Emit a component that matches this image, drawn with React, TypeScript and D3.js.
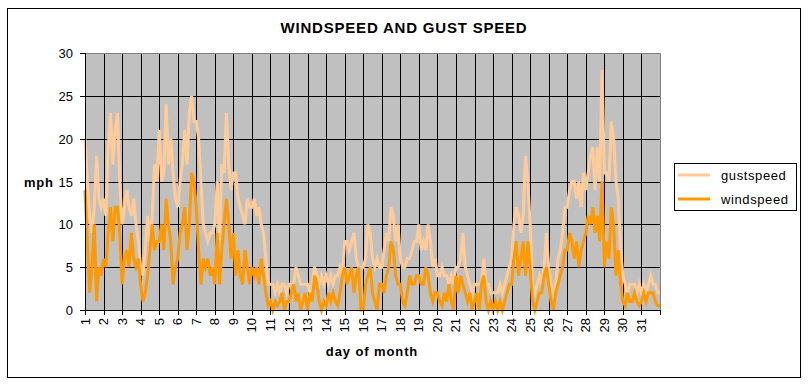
import React from "react";
import * as d3 from "d3";

// samples every 3 hours (8 per day), day 1 00:00 .. day 32 00:00
const gustSpeed: number[] = [
  20, 15, 11, 9, 12, 18, 13, 12,
  13, 11, 19, 23, 17, 21, 23, 15,
  10, 12, 14, 12, 11, 13, 10, 8,
  5, 4, 7, 11, 8, 11, 17, 15,
  21, 15, 16, 24, 17, 20, 16, 13,
  12, 15, 17, 21, 17, 23, 25, 22,
  22, 20, 15, 10, 9, 8, 9, 9,
  10, 15, 8, 17, 16, 23, 17, 14,
  16, 16, 13, 12, 11, 10, 13, 12,
  12, 13, 11, 12, 10, 9, 6, 3,
  3, 3, 2, 3, 2, 3, 3, 2,
  3, 3, 3, 5, 4, 3, 3, 3,
  3, 2, 3, 5, 4, 3, 4, 3,
  4, 3, 4, 3, 4, 4, 5, 4,
  8, 8, 7, 8, 9, 6, 5, 5,
  5, 6, 10, 9, 6, 5, 6, 5,
  5, 7, 9, 8, 12, 11, 8, 10,
  6, 5, 5, 6, 6, 7, 8, 8,
  10, 7, 8, 7, 10, 8, 5, 6,
  4, 4, 5, 4, 4, 3, 4, 3,
  5, 5, 6, 9, 5, 4, 3, 2,
  3, 3, 3, 3, 6, 3, 3, 2,
  2, 2, 2, 3, 2, 3, 4, 5,
  6, 10, 12, 11, 9, 11, 18, 15,
  10, 3, 2, 3, 4, 3, 5, 9,
  5, 3, 2, 3, 6, 7, 9, 12,
  12, 14, 15, 15, 13, 15, 12, 16,
  14, 16, 18, 19, 14, 19, 15, 28,
  16, 16, 15, 22, 20, 15, 13, 7,
  4, 3, 2, 3, 3, 3, 2, 3,
  2, 3, 2, 3, 4, 3, 3, 2,
  2,
];

const windSpeed: number[] = [
  14, 8, 2, 5, 10, 1, 5, 4,
  6, 5, 9, 12, 8, 12, 12, 9,
  3, 6, 7, 5, 9, 6, 5, 6,
  3, 1, 2, 4, 7, 10, 7, 8,
  8, 10, 7, 13, 10, 8, 3, 5,
  6, 9, 10, 12, 7, 10, 16, 15,
  12, 7, 3, 6, 5, 6, 4, 5,
  3, 9, 3, 7, 10, 13, 10, 6,
  9, 4, 7, 4, 3, 7, 5, 3,
  5, 4, 5, 3, 6, 4, 2, 0.5,
  1, 0, 1, 0.5, 1, 2, 0, 1,
  1, 2, 3, 1, 2, 0, 1, 2,
  0, 2, 1, 4, 3, 1, 0, 1,
  0.5, 2, 1, 2, 1, 0.5, 2, 4,
  5, 3, 4, 5, 2, 4, 5, 0,
  0, 3, 4, 5, 2, 1, 0, 3,
  3, 2, 4, 5, 8, 7, 4, 3,
  3, 1, 0.5, 2, 4, 3, 3, 4,
  4, 3, 3, 5, 4, 2, 1, 2,
  2, 1, 0.5, 2, 1, 3, 1, 0,
  4, 2, 4, 3, 2, 1, 2, 0,
  1, 2, 0, 3, 4, 1, 0, 1,
  0, 1, 0, 1, 0, 1, 2, 3,
  3, 6, 8, 4, 6, 8, 4, 8,
  5, 1, 0, 1, 2, 2, 4, 5,
  3, 1, 0, 2, 3, 4, 5, 7,
  7, 9, 8, 6, 8, 5, 7, 8,
  9, 11, 10, 12, 9, 11, 8, 15,
  5, 8, 6, 12, 10, 4, 7, 3,
  1, 0.5, 2, 1, 1, 2, 1, 0.5,
  1, 2, 1, 2, 2, 2, 1, 0.5,
  0.5,
];

const samplesPerDay = 8;
const dayTicks: number[] = Array.from({ length: 31 }, (_, i) => i + 1);
const yTicks: number[] = [0, 5, 10, 15, 20, 25, 30];
const seriesNames = ["gustspeed", "windspeed"];
const seriesColors = ["#FFCC99", "#FF9900"];

const W = 809;
const H = 384;
const PL = 85, PR = 660, PT = 53, PB = 310;
const FONT = "Arial, 'Liberation Sans', sans-serif";

export default function App() {
  const x = d3.scaleLinear().domain([1, 32]).range([PL, PR]);
  const y = d3.scaleLinear().domain([0, 30]).range([PB, PT]);
  const line = d3
    .line<number>()
    .x((_, i) => x(1 + i / samplesPerDay))
    .y((d) => y(d));
  const series = [gustSpeed, windSpeed];

  return (
    <svg
      width={W}
      height={H}
      style={{ position: "absolute", left: 0, top: 0, fontFamily: FONT }}
    >
      <rect x={0} y={0} width={W} height={H} fill="#fff" />
      <rect x={7.5} y={8.5} width={793} height={369} fill="#fff" stroke="#000" strokeWidth={1} />
      <text x={404} y={33} textAnchor="middle" fontSize={15} fontWeight="bold" letterSpacing={0.8} fill="#000">
        WINDSPEED AND GUST SPEED
      </text>

      {/* plot area */}
      <rect x={PL} y={PT} width={PR - PL} height={PB - PT} fill="#C0C0C0" />
      {yTicks.filter((t) => t > 0 && t < 30).map((t) => (
        <line key={"gy" + t} x1={PL} x2={PR} y1={Math.round(y(t)) + 0.5} y2={Math.round(y(t)) + 0.5} stroke="#000" strokeWidth={1} />
      ))}
      {dayTicks.filter((d) => d > 1).map((d) => (
        <line key={"gx" + d} x1={Math.round(x(d)) + 0.5} x2={Math.round(x(d)) + 0.5} y1={PT} y2={PB} stroke="#000" strokeWidth={1} />
      ))}
      <polyline
        points={`${PL},${PT + 0.5} ${PR + 0.5},${PT + 0.5} ${PR + 0.5},${PB}`}
        fill="none"
        stroke="#808080"
        strokeWidth={1}
      />

      {series.map((s, i) => (
        <path key={seriesNames[i]} d={line(s) || ""} fill="none" stroke={seriesColors[i]} strokeWidth={3} strokeLinejoin="miter" />
      ))}

      {/* axes */}
      <line x1={PL + 0.5} x2={PL + 0.5} y1={PT} y2={PB + 0.5} stroke="#000" />
      <line x1={PL} x2={PR + 0.5} y1={PB + 0.5} y2={PB + 0.5} stroke="#000" />
      {yTicks.map((t) => (
        <g key={"yt" + t}>
          <line x1={PL - 5} x2={PL} y1={Math.round(y(t)) + 0.5} y2={Math.round(y(t)) + 0.5} stroke="#000" />
          <text x={73} y={y(t) + 5} textAnchor="end" fontSize={13} fill="#000">
            {t}
          </text>
        </g>
      ))}
      {[...dayTicks, 32].map((d) => (
        <line key={"xt" + d} x1={Math.round(x(d)) + 0.5} x2={Math.round(x(d)) + 0.5} y1={PB} y2={PB + 5} stroke="#000" />
      ))}
      {dayTicks.map((d) => (
        <text
          key={"xl" + d}
          transform={`translate(${x(d) + 4.5},${PB + 8}) rotate(-90)`}
          textAnchor="end"
          fontSize={13}
          fill="#000"
        >
          {d}
        </text>
      ))}
      <text x={24} y={187} fontSize={13} fontWeight="bold" letterSpacing={0.8} fill="#000">
        mph
      </text>
      <text x={372} y={356} textAnchor="middle" fontSize={13} fontWeight="bold" letterSpacing={0.9} fill="#000">
        day of month
      </text>

      {/* legend */}
      <rect x={674.5} y={163.5} width={122} height={47} fill="#fff" stroke="#000" />
      {seriesNames.map((n, i) => (
        <g key={"lg" + n}>
          <line x1={678} x2={710} y1={175 + i * 24} y2={175 + i * 24} stroke={seriesColors[i]} strokeWidth={3} />
          <text x={721} y={179.5 + i * 24} fontSize={13} letterSpacing={0.6} fill="#000">
            {n}
          </text>
        </g>
      ))}
    </svg>
  );
}
